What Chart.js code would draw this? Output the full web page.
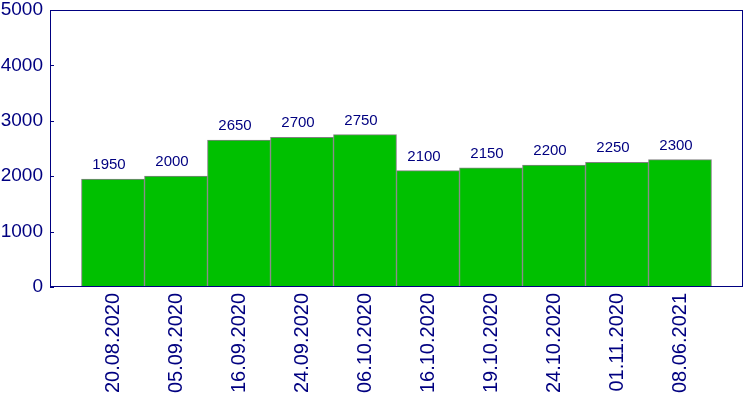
<!DOCTYPE html>
<html>
<head>
<meta charset="utf-8">
<script src="https://cdn.jsdelivr.net/npm/chart.js@4/dist/chart.umd.min.js"></script>
<style>
  html, body { margin: 0; padding: 0; background: #fff; }
  #wrap { width: 750px; height: 400px; }
</style>
</head>
<body>
<div id="wrap"><canvas id="chart"></canvas></div>
<script>
const dates = ['20.08.2020', '05.09.2020', '16.09.2020', '24.09.2020', '06.10.2020',
  '16.10.2020', '19.10.2020', '24.10.2020', '01.11.2020', '08.06.2021'];
const values = [1950, 2000, 2650, 2700, 2750, 2100, 2150, 2200, 2250, 2300];
const yTicks = [0, 1000, 2000, 3000, 4000, 5000];

const NAVY = '#000080';
const FONT = 'Liberation Sans, Arial, sans-serif';

// frame round the plot, little tick marks on the inside, numbers over bars
const decor = {
  id: 'decor',
  afterDatasetsDraw(chart) {
    const ctx = chart.ctx;
    const a = chart.chartArea;
    const y = chart.scales.y;
    ctx.save();
    ctx.strokeStyle = NAVY;
    ctx.lineWidth = 1;
    ctx.strokeRect(Math.round(a.left) + 0.5, Math.round(a.top) + 0.5,
      Math.round(a.right - a.left) - 1, Math.round(a.bottom - a.top) - 1);
    ctx.beginPath();
    for (const t of yTicks) {
      const py = Math.round(y.getPixelForValue(t)) + 0.5;
      ctx.moveTo(a.left, py);
      ctx.lineTo(a.left + 4, py);
    }
    ctx.stroke();

    ctx.fillStyle = NAVY;
    ctx.font = '15px ' + FONT;
    ctx.textAlign = 'center';
    ctx.textBaseline = 'alphabetic';
    chart.getDatasetMeta(0).data.forEach((bar, i) => {
      ctx.fillText(String(values[i]), bar.x - 4, bar.y - 10);
    });
    ctx.restore();
  }
};

new Chart(document.getElementById('chart'), {
  type: 'bar',
  data: {
    datasets: [{
      data: values.map((v, i) => ({ x: i, y: v })),
      backgroundColor: 'rgb(0,192,0)',
      borderColor: '#808080',
      borderWidth: 1,
      barPercentage: 1,
      categoryPercentage: 1
    }]
  },
  options: {
    responsive: true,
    maintainAspectRatio: false,
    animation: false,
    layout: { padding: { top: 0, right: 7, left: 0, bottom: 0 } },
    plugins: { legend: { display: false }, tooltip: { enabled: false } },
    scales: {
      x: {
        type: 'linear',
        offset: false,
        min: -1,
        max: 10,
        afterBuildTicks(scale) {
          scale.ticks = dates.map((d, i) => ({ value: i }));
        },
        afterFit(scale) { scale.height = 113; },
        grid: { display: false, drawTicks: false, offset: false },
        border: { display: false },
        ticks: {
          autoSkip: false,
          minRotation: 90,
          maxRotation: 90,
          padding: 6,
          color: NAVY,
          font: { family: FONT, size: 20 },
          callback: (v) => dates[v]
        }
      },
      y: {
        min: 0,
        max: 5000,
        afterBuildTicks(scale) {
          scale.ticks = yTicks.map(v => ({ value: v }));
        },
        afterFit(scale) {
          scale.width = 50;
          scale.paddingTop = 10;
          scale.paddingBottom = 0;
        },
        grid: { display: false, drawTicks: false },
        border: { display: false },
        ticks: {
          padding: 7,
          color: NAVY,
          font: { family: FONT, size: 19 },
          callback: (v) => String(v)
        }
      }
    }
  },
  plugins: [decor]
});
</script>
</body>
</html>
